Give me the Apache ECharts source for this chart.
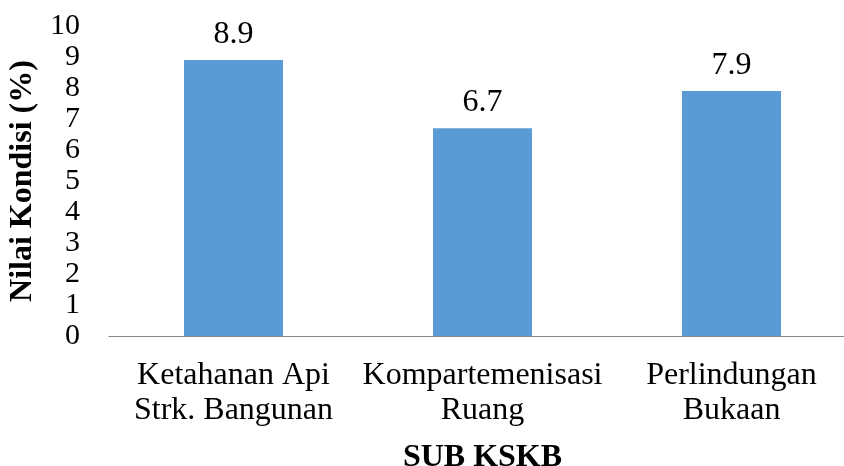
<!DOCTYPE html>
<html>
<head>
<meta charset="utf-8">
<title>Nilai Kondisi SUB KSKB</title>
<script src="https://cdn.jsdelivr.net/npm/echarts@6/dist/echarts.min.js"></script>
<style>
  html, body { margin: 0; padding: 0; background: #fff; }
  #chart { width: 844px; height: 466px; }
</style>
</head>
<body>
<div id="chart"></div>
<script>
// data
const categories = ["Ketahanan Api\nStrk. Bangunan", "Kompartemenisasi\nRuang", "Perlindungan\nBukaan"];
const values = [8.9, 6.7, 7.9];
const yTicks = [0, 10, 1]; // min, max, interval

const serif = "'Liberation Serif', 'Times New Roman', serif";

const chart = echarts.init(document.getElementById("chart"));

const options = {
  animation: false,
  grid: {
    left: 109,
    top: 26,
    width: 747,
    height: 310,
    containLabel: false,
    outerBoundsMode: "none", // v6: don't squeeze grid to fit labels
  },
  xAxis: {
    type: "category",
    data: categories,
    name: "SUB KSKB",
    nameLocation: "middle",
    nameGap: 106,
    nameTextStyle: {
      fontFamily: serif,
      fontSize: 32,
      fontWeight: "bold",
      color: "#000",
    },
    axisLine: {
      show: true,
      lineStyle: { color: "#868686", width: 1 },
    },
    axisTick: { show: false },
    axisLabel: {
      margin: 22,
      fontFamily: serif,
      fontSize: 32,
      lineHeight: 35,
      color: "#000",
      interval: 0,
    },
  },
  yAxis: {
    type: "value",
    min: yTicks[0],
    max: yTicks[1],
    interval: yTicks[2],
    name: "Nilai Kondisi (%)",
    nameLocation: "middle",
    nameGap: 66,
    nameTextStyle: {
      fontFamily: serif,
      fontSize: 32,
      fontWeight: "bold",
      color: "#000",
    },
    axisLine: { show: false },
    axisTick: { show: false },
    splitLine: { show: false },
    axisLabel: {
      margin: 29,
      fontFamily: serif,
      fontSize: 30,
      color: "#000",
      showMinLabel: true,
      showMaxLabel: true,
      hideOverlap: false,
    },
  },
  series: [
    {
      type: "bar",
      data: values,
      barWidth: 99,
      itemStyle: { color: "#5B9BD5" },
      label: {
        show: true,
        position: "top",
        distance: 10,
        fontFamily: serif,
        fontSize: 32,
        color: "#000",
        formatter: (p) => p.value.toFixed(1),
      },
    },
  ],
};

chart.setOption(options);

window.addEventListener("resize", () => {
  chart.resize();
});
</script>
</body>
</html>
